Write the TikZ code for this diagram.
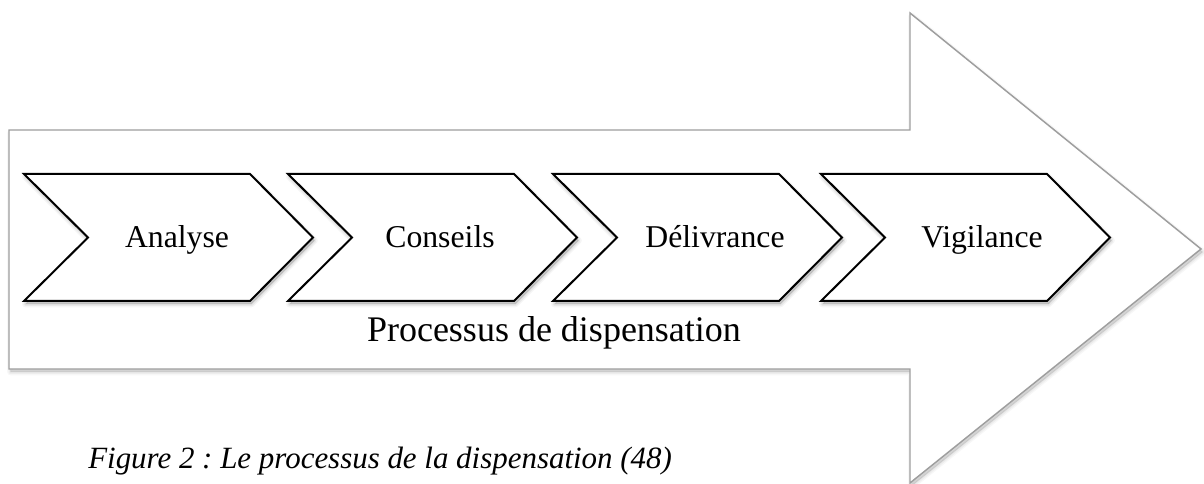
\documentclass[tikz,border=0pt]{standalone}
\usepackage{fontspec}
\setmainfont{Liberation Serif}
\frenchspacing
\begin{document}
\begin{tikzpicture}[x=0.75pt,y=-0.75pt,
  shadowlayer/.style={fill=black, draw=black, line join=round,
      shift={(1.5,3)}},
  bigarrow/.style={draw=black!38, line width=1.1pt, fill=white,
      line join=miter},
  chevron/.style={draw=black, line width=1.5pt, fill=white,
      line join=miter},
  steplabel/.style={anchor=base, inner sep=0pt,
      font=\fontsize{23.8}{28}\selectfont},
  titlelabel/.style={anchor=base, inner sep=0pt,
      font=\fontsize{27}{32}\selectfont},
  captionlabel/.style={anchor=base west, inner sep=0pt,
      font=\fontsize{23.2}{28}\selectfont\itshape},
  chev/.pic={
    % soft shadow below and to the right
    \foreach \w/\o in {5/0.04,3/0.05,1/0.06}
      \filldraw[shadowlayer, opacity=\o, line width=\w pt]
        (0,0) -- (226,0) -- (289,63.5) -- (226,127)
        -- (0,127) -- (64,63.5) -- cycle;
    \draw[chevron] (0,0) -- (226,0) -- (289,63.5) -- (226,127)
      -- (0,127) -- (64,63.5) -- cycle;}
]
\useasboundingbox (0,0) rectangle (1204,484);

% large background arrow with its soft shadow
\foreach \w/\o in {5/0.03,3/0.04,1/0.05}
  \filldraw[shadowlayer, opacity=\o, line width=\w pt]
    (9,130) -- (910,130) -- (910,13) -- (1201,249)
    -- (910,483) -- (910,369) -- (9,369) -- cycle;
\draw[bigarrow] (9,130) -- (910,130) -- (910,13) -- (1201,249)
  -- (910,483) -- (910,369) -- (9,369) -- cycle;

% the four steps
\pic at (24,174)  {chev};
\pic at (288,174) {chev};
\pic at (553,174) {chev};
\pic at (821,174) {chev};

\node[steplabel] (analyse)    at (177,248) {Analyse};
\node[steplabel] (conseils)   at (440,248) {Conseils};
\node[steplabel] (delivrance) at (715,248) {Délivrance};
\node[steplabel] (vigilance)  at (982,248) {Vigilance};

\node[titlelabel] (process) at (554,342) {Processus de dispensation};

\node[captionlabel] (caption) at (88,469) {Figure 2 : Le processus de la dispensation (48)};
\end{tikzpicture}
\end{document}
